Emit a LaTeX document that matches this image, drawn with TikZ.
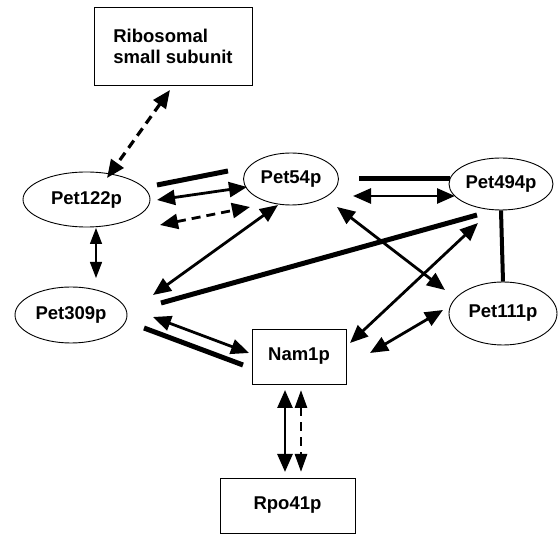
\documentclass[tikz,border=0pt]{standalone}
\usepackage{fontspec}
\setmainfont{Liberation Sans}
\usetikzlibrary{arrows.meta,shapes.geometric}
\begin{document}
\begin{tikzpicture}[x=1pt,y=-1pt,
  every node/.style={font=\fontsize{18.5}{21}\selectfont\bfseries, inner sep=0pt},
  oval/.style={ellipse, draw, line width=0.9pt},
  box/.style={rectangle, draw, line width=0.9pt},
  link/.style={line width=2.8pt, {Triangle[length=18pt,width=15pt]}-{Triangle[length=18pt,width=15pt]}},
  dlink/.style={link, dash pattern=on 9pt off 6pt},
  bar/.style={line width=5pt},
  smalllink/.style={line width=1.4pt, {Triangle[length=16pt,width=12pt]}-{Triangle[length=16pt,width=12pt]}}]
\useasboundingbox (0,0) rectangle (558,534);
% nodes
\node[box, minimum width=158, minimum height=78, align=left] (rib) at (173,46) {Ribosomal\\small subunit};
\node[oval, minimum width=127, minimum height=55] (p122) at (86.5,199.5) {Pet122p};
\node[oval, minimum width=95, minimum height=52] (p54) at (291,179) {Pet54p};
\node[oval, minimum width=104, minimum height=52] (p494) at (501,184) {Pet494p};
\node[oval, minimum width=112, minimum height=56] (p309) at (71,315) {Pet309p};
\node[oval, minimum width=108, minimum height=63] (p111) at (503,313.5) {Pet111p};
\node[box, minimum width=94, minimum height=55] (nam) at (299,356.5) {Nam1p};
\node[box, minimum width=135, minimum height=55] (rpo) at (287.5,505.5) {Rpo41p};
% connector end points
\coordinate (ribS) at (170,90);   \coordinate (p122N) at (107,178);
\coordinate (p122a) at (157,185); \coordinate (p54a) at (228,171);
\coordinate (p122b) at (157,200); \coordinate (p54b) at (247,187);
\coordinate (p122c) at (160,225); \coordinate (p54c) at (250,207);
\coordinate (p54d) at (359,179);  \coordinate (p494d) at (450,179);
\coordinate (p54e) at (353,196);  \coordinate (p494e) at (455,196);
\coordinate (p122S) at (96,228);  \coordinate (p309N) at (96,278);
\coordinate (p309a) at (153,295); \coordinate (p54f) at (278,205);
\coordinate (p309b) at (161,303); \coordinate (p494f) at (477,215);
\coordinate (p54g) at (337,207);  \coordinate (p111a) at (445,290);
\coordinate (nama) at (350,343);  \coordinate (p494g) at (478,223);
\coordinate (namb) at (370,353);  \coordinate (p111b) at (443,310);
\coordinate (p309c) at (153,317); \coordinate (namc) at (249,353);
\coordinate (p309d) at (144,328); \coordinate (namd) at (243,365);
\coordinate (nams1) at (285,390); \coordinate (rpon1) at (285,472);
\coordinate (nams2) at (301,390); \coordinate (rpon2) at (301,472);
% connectors
\draw[dlink, line width=3.2pt] (ribS) -- (p122N);
\draw[bar] (p122a) -- (p54a);
\draw[link] (p122b) -- (p54b);
\draw[dlink] (p122c) -- (p54c);
\draw[bar] (p54d) -- (p494d);
\draw[link] (p54e) -- (p494e);
\draw[bar, line width=4pt] (p494.south) -- (p111.north);
\draw[smalllink] (p122S) -- (p309N);
\draw[link] (p309a) -- (p54f);
\draw[bar] (p309b) -- (p494f);
\draw[link] (p54g) -- (p111a);
\draw[link] (nama) -- (p494g);
\draw[link] (namb) -- (p111b);
\draw[link] (p309c) -- (namc);
\draw[bar] (p309d) -- (namd);
\draw[link] (nams1) -- (rpon1);
\draw[dlink, {Triangle[length=18pt,width=12pt]}-{Triangle[length=18pt,width=12pt]}] (nams2) -- (rpon2);
\end{tikzpicture}
\end{document}
